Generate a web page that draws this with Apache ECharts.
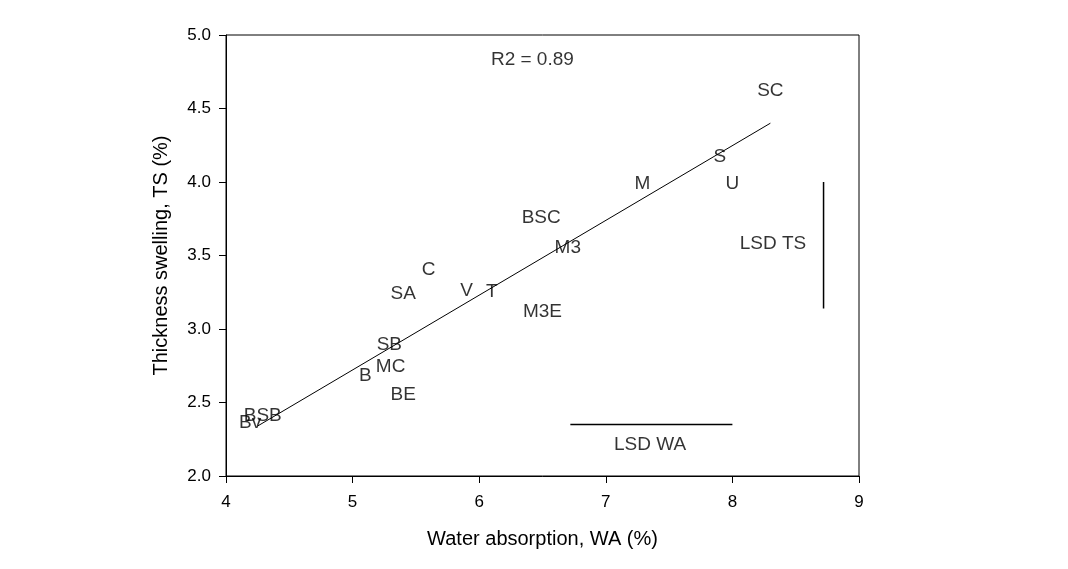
<!DOCTYPE html>
<html>
<head>
<meta charset="utf-8">
<script src="https://cdn.jsdelivr.net/npm/echarts@6/dist/echarts.min.js"></script>
<style>
  html, body { margin: 0; padding: 0; background: #fff; }
  #chart { width: 1068px; height: 569px; }
</style>
</head>
<body>
<div id="chart"></div>
<script>
  // panel codes with water absorption (x) and thickness swelling (y)
  const codes = ['SC', 'S', 'U', 'M', 'BSC', 'M3', 'C', 'SA', 'V', 'T', 'M3E', 'SB', 'MC', 'B', 'BE', 'BSB', 'Bv'];
  const waValues = [8.30, 7.90, 8.00, 7.29, 6.49, 6.70, 5.60, 5.40, 5.90, 6.10, 6.50, 5.29, 5.30, 5.10, 5.40, 4.29, 4.19];
  const tsValues = [4.62, 4.17, 3.99, 3.99, 3.76, 3.55, 3.40, 3.24, 3.26, 3.25, 3.12, 2.89, 2.74, 2.68, 2.55, 2.41, 2.36];

  // fitted line end points
  const fitLine = [[4.25, 2.34], [8.30, 4.40]];
  // LSD bars
  const lsdTs = [[8.72, 4.00], [8.72, 3.14]];
  const lsdWa = [[6.72, 2.35], [8.00, 2.35]];
  // text notes: [x, y, text]
  const notes = [[6.42, 4.83, 'R2 = 0.89'], [8.32, 3.58, 'LSD TS'], [7.35, 2.21, 'LSD WA']];

  const xTicks = { min: 4, max: 9, step: 1 };
  const yTicks = { min: 2, max: 5, step: 0.5 };

  const font = 'Liberation Sans, Arial, sans-serif';
  const chart = echarts.init(document.getElementById('chart'));

  const pointData = codes.map((c, i) => [waValues[i], tsValues[i], c]);

  function textSeries(data, size) {
    return {
      type: 'scatter',
      symbolSize: 0,
      silent: true,
      data: data,
      itemStyle: { color: '#000' },
      label: {
        show: true,
        position: 'inside',
        formatter: p => p.value[2],
        color: '#000',
        textBorderWidth: 0,
        textBorderColor: 'transparent',
        fontSize: size,
        fontFamily: font
      }
    };
  }

  function lineSeries(data, width) {
    return {
      type: 'line',
      data: data,
      symbol: 'none',
      silent: true,
      lineStyle: { color: '#000', width: width }
    };
  }

  const option = {
    backgroundColor: '#fff',
    animation: false,
    grid: {
      left: 226, top: 35, right: 209, bottom: 93,
      show: true, borderColor: '#000', borderWidth: 1
    },
    xAxis: {
      type: 'value',
      min: xTicks.min, max: xTicks.max, interval: xTicks.step,
      name: 'Water absorption, WA (%)',
      nameLocation: 'middle',
      nameGap: 53,
      nameTextStyle: { color: '#000', fontSize: 20, fontFamily: font },
      axisLine: { show: true, lineStyle: { color: '#000', width: 1 } },
      axisTick: { show: true, length: 7, lineStyle: { color: '#000' } },
      axisLabel: { color: '#000', fontSize: 17, fontFamily: font, margin: 18 },
      splitLine: { show: false }
    },
    yAxis: {
      type: 'value',
      min: yTicks.min, max: yTicks.max, interval: yTicks.step,
      name: 'Thickness swelling, TS (%)',
      nameLocation: 'middle',
      nameGap: 55,
      nameTextStyle: { color: '#000', fontSize: 20, fontFamily: font },
      axisLine: { show: true, lineStyle: { color: '#000', width: 1 } },
      axisTick: { show: true, length: 7, lineStyle: { color: '#000' } },
      axisLabel: { color: '#000', fontSize: 17, fontFamily: font, margin: 15, formatter: v => v.toFixed(1) },
      splitLine: { show: false }
    },
    series: [
      lineSeries(fitLine, 1),
      lineSeries(lsdTs, 1.5),
      lineSeries(lsdWa, 1.5),
      textSeries(pointData, 19),
      textSeries(notes, 19)
    ]
  };

  chart.setOption(option);
</script>
</body>
</html>
